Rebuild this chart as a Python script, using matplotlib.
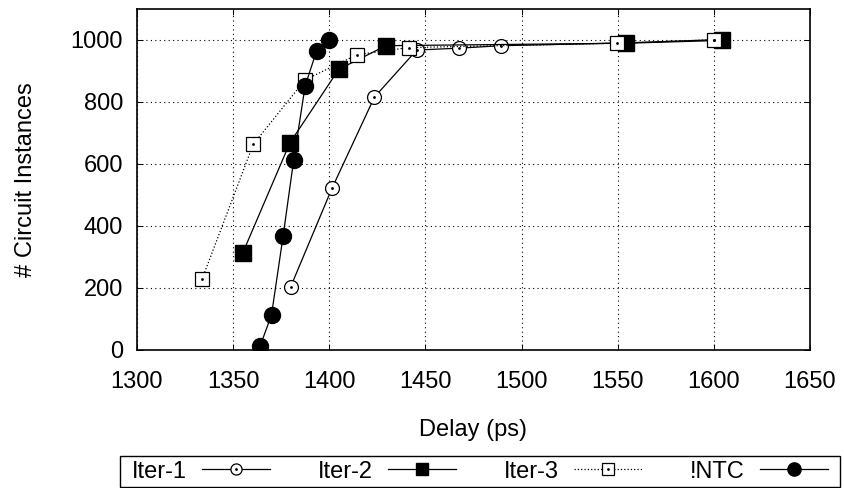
import matplotlib.pyplot as plt
from matplotlib.lines import Line2D
from matplotlib.patches import Rectangle
from matplotlib.legend_handler import HandlerTuple

plt.rcParams['font.family'] = ['Liberation Sans', 'DejaVu Sans']

iter1_x = [1380, 1401.5, 1423.5, 1445.5, 1467.5, 1489.5, 1554.5, 1600]
iter1_y = [204, 522, 815, 967, 973, 981, 990, 1000]
iter2_x = [1355, 1379.5, 1405, 1429.5, 1554.5, 1604]
iter2_y = [312, 667, 905, 981, 989, 998]
iter3_x = [1334, 1360.5, 1387.5, 1414.5, 1441.5, 1549.5, 1600]
iter3_y = [230, 663, 871, 952, 975, 989, 1000]
ntc_x = [1364, 1370, 1376, 1381.5, 1387.5, 1393.5, 1400]
ntc_y = [11, 113, 366, 611, 852, 965, 1000]

fig = plt.figure(figsize=(8.45, 4.88), dpi=100)
ax = fig.add_axes([0.162, 0.283, 0.7966, 0.699])

ax.plot(iter1_x, iter1_y, '-', color='black', lw=0.9, marker='o', ms=10,
        mfc='white', mec='black', mew=0.9, zorder=3)
ax.plot(iter1_x, iter1_y, ' ', marker='.', ms=2, color='black', zorder=4)
ax.plot(iter2_x, iter2_y, '-', color='black', lw=0.9, marker='s', ms=11,
        mfc='black', mec='black', zorder=3)
ax.plot(iter3_x, iter3_y, ':', color='black', lw=0.9, marker='s', ms=10,
        mfc='white', mec='black', mew=0.9, zorder=3)
ax.plot(iter3_x, iter3_y, ' ', marker='.', ms=2, color='black', zorder=4)
ax.plot(ntc_x, ntc_y, '-', color='black', lw=0.9, marker='o', ms=11.5,
        mfc='black', mec='black', zorder=3)

ax.set_xlim(1300, 1650)
ax.set_ylim(0, 1100)
ax.set_xticks(range(1300, 1651, 50))
ax.set_yticks(range(0, 1001, 200))
ax.grid(True, linestyle=(0, (1, 3)), color='black', lw=0.8)
ax.tick_params(direction='in', top=True, right=True, labelsize=17, length=4,
               width=0.7)
ax.tick_params(axis='x', pad=15)
ax.tick_params(axis='y', pad=10)
for s in ax.spines.values():
    s.set_linewidth(1.2)

ax.set_xlabel('Delay (ps)', fontsize=17, labelpad=19)
ax.set_ylabel('# Circuit Instances', fontsize=17, labelpad=24)

dot = Line2D([], [], ls='', marker='.', ms=2, color='black')
handles = [
    (Line2D([], [], color='black', lw=0.9, marker='o', ms=8, mfc='white', mew=0.9), dot),
    Line2D([], [], color='black', lw=0.9, marker='s', ms=9, mfc='black'),
    (Line2D([], [], color='black', lw=0.9, ls=':', marker='s', ms=8, mfc='white', mew=0.9), dot),
    Line2D([], [], color='black', lw=0.9, marker='o', ms=9.5, mfc='black'),
]
labels = ['Iter-1', 'Iter-2', 'Iter-3', '!NTC']
leg = fig.legend(handles, labels, loc='center', bbox_to_anchor=(0.568, 0.0338),
                 ncol=4, markerfirst=False, fontsize=17, handlelength=2.9,
                 columnspacing=2.0, frameon=False,
                 borderpad=0.1, handletextpad=0.65, borderaxespad=0.0,
                 handler_map={tuple: HandlerTuple(ndivide=1, pad=0)})

# legend frame drawn separately so it can be wider than the entries
fig.patches.append(Rectangle((120 / 845, 1.5 / 488), 720 / 845, 31 / 488,
                             transform=fig.transFigure, fill=False,
                             edgecolor='black', lw=1.0))

plt.savefig('out.png', dpi=100)
